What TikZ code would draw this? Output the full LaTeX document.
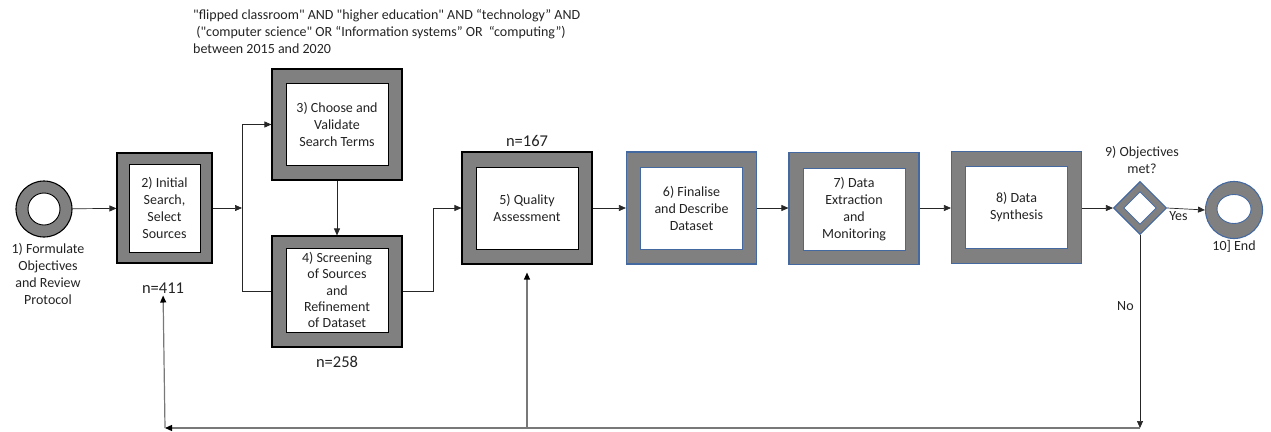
\documentclass[tikz,border=0pt]{standalone}
\usepackage{fontspec}
\setmainfont{Carlito}
\newfontfamily\plainq{Carlito}
\usetikzlibrary{arrows.meta,shapes.geometric}
\definecolor{boxgray}{RGB}{128,128,128}
\definecolor{edgeblue}{RGB}{68,104,160}
\definecolor{txt}{RGB}{35,35,35}
\definecolor{loopgray}{RGB}{120,120,120}
\newcommand{\sq}{{\plainq\symbol{34}}}
\begin{document}
\begin{tikzpicture}[x=1pt,y=-1pt,
  font=\fontsize{14}{17}\selectfont, text=txt,
  outerbox/.style={draw=black, line width=1.1pt, fill=boxgray, minimum width=130pt, minimum height=112pt, inner sep=0pt},
  outerblue/.style={outerbox, draw=edgeblue},
  innerbox/.style={draw=black, line width=0.9pt, fill=white, minimum width=102pt, minimum height=82pt, inner sep=0pt, align=center},
  innerblue/.style={innerbox, draw=edgeblue},
  arr/.style={-{Triangle[length=7pt,width=6pt]}, line width=0.7pt, draw=black!85},
  looparr/.style={-{Triangle[length=7pt,width=6pt,color=black]}, line width=1.2pt, draw=loopgray},
  lbl/.style={align=center, inner sep=1pt},
  nlbl/.style={inner sep=1pt, font=\fontsize{16.5}{19}\selectfont}
]
\useasboundingbox (0,0) rectangle (1271,431);

% top text
\node[anchor=north west, align=left, inner sep=0pt] (query) at (193,9)
  {\sq flipped classroom\sq{} AND \sq higher education\sq{} AND “technology” AND\\
   \ (\sq computer science\sq{} OR “Information systems” OR \ “computing”)\\
   between 2015 and 2020};

% 1) start
\node[circle, draw=black, line width=1.1pt, fill=boxgray, minimum size=56pt, inner sep=0pt] (c1) at (44,209) {};
\node[circle, draw=black, line width=0.9pt, fill=white, minimum size=32pt, inner sep=0pt] (c1i) at (44,209) {};
\node[lbl] (l1) at (48,274) {1) Formulate\\Objectives\\and Review\\Protocol};

% 2)
\node[outerbox, minimum width=95pt, minimum height=110pt] (b2) at (164.5,208) {};
\node[innerbox, minimum width=71pt, minimum height=88pt] (b2i) at (164.5,208) {2) Initial\\Search,\\Select\\Sources};
\node[nlbl] (n411) at (163,288) {n=411};

% 3)
\node[outerbox, minimum height=111pt] (b3) at (337,124.5) {};
\node[innerbox] (b3i) at (337,124.5) {3) Choose and\\Validate\\Search Terms};

% 4)
\node[outerbox, minimum height=111pt] (b4) at (337,291.5) {};
\node[innerbox, minimum height=84pt, font=\fontsize{14}{16.3}\selectfont] (b4i) at (337,290) {4) Screening\\of Sources\\and\\Refinement\\of Dataset};
\node[nlbl] (n258) at (337,362) {n=258};

% 5)
\node[outerbox] (b5) at (527,208) {};
\node[innerbox] (b5i) at (527,208) {5) Quality\\Assessment};
\node[nlbl] (n167) at (527,141) {n=167};

% 6)
\node[outerblue] (b6) at (691.5,208) {};
\node[innerblue] (b6i) at (691.5,208) {6) Finalise\\and Describe\\Dataset};

% 7)
\node[outerblue] (b7) at (854,208.5) {};
\node[innerblue] (b7i) at (854,209) {7) Data\\Extraction\\and\\Monitoring};

% 8)
\node[outerblue] (b8) at (1016.5,207.5) {};
\node[innerblue] (b8i) at (1016.5,207.5) {8) Data\\Synthesis};

% 9) decision
\node[diamond, draw=edgeblue, line width=1.1pt, fill=boxgray, minimum width=53pt, minimum height=53pt, inner sep=0pt] (d9) at (1140,208) {};
\node[diamond, draw=edgeblue, line width=0.9pt, fill=white, minimum width=33pt, minimum height=33pt, inner sep=0pt] (d9i) at (1140,208) {};
\node[lbl] (l9) at (1142,160) {9) Objectives\\met?};

% 10) end
\node[circle, draw=edgeblue, line width=1.1pt, fill=boxgray, minimum size=57pt, inner sep=0pt] (e10) at (1234,210) {};
\node[ellipse, draw=edgeblue, line width=0.9pt, fill=white, minimum width=34pt, minimum height=29pt, inner sep=0pt] (e10i) at (1234,209) {};
\node[lbl] (l10) at (1234,246) {10] End};

% coordinates
\coordinate (ja) at (242,208);
\coordinate (jb) at (433,291.5);
\coordinate (kr) at (1140,428);
\coordinate (km) at (527,428);
\coordinate (kl) at (165,428);

% connectors
\draw[arr] (c1) -- (b2);
\draw[arr] (b2.east |- ja) -- (ja);
\draw[arr] (ja) |- (b3.west);
\draw[line width=0.7pt, draw=black!85] (ja) |- (b4.west);
\draw[arr] (b3) -- (b4);
\draw[arr] (b4.east) -- (jb) |- (b5.west);
\draw[arr] (b5) -- (b6);
\draw[arr] (b6) -- (b7.west |- b6);
\draw[arr] (b7.east |- b6) -- (b8.west |- b6);
\draw[arr] (b8.east |- d9) -- (d9);
\draw[arr] (d9.east) -- node[below, pos=0.3, inner sep=3pt] (yes) {Yes} (e10.west);
\draw[arr] (d9.south) -- node[left, pos=0.37, inner sep=6pt] (no) {No} (kr);
\draw[looparr] (kr) -- (kl);
\draw[looparr, shorten >=1pt] (kl) -- (n411);
\draw[looparr, shorten >=8pt] (km) -- (b5.south);
\end{tikzpicture}
\end{document}
